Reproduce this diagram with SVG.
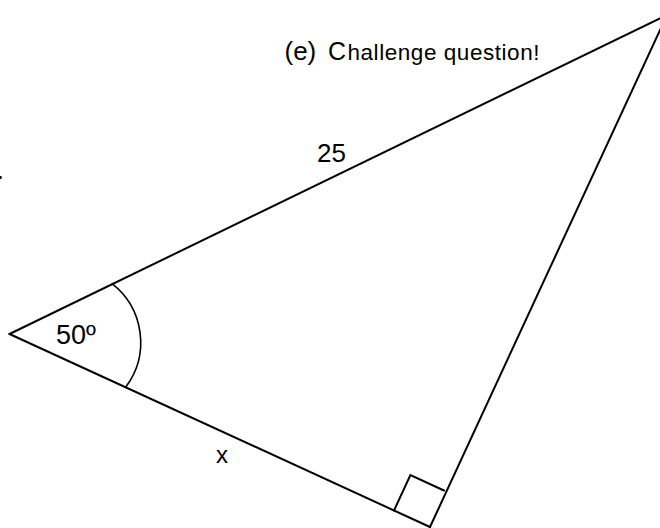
<svg xmlns="http://www.w3.org/2000/svg" width="660" height="528" viewBox="0 0 660 528">
<style>
.ln{fill:none;stroke:#000;stroke-width:2;stroke-linecap:round;stroke-linejoin:miter}
.arc{fill:none;stroke:#000;stroke-width:1.6}
.t{font-family:"Liberation Sans",Arial,sans-serif;fill:#000}
</style>
<rect width="660" height="528" fill="#fff"/>
<g id="triangle">
<line class="ln" x1="9.5" y1="334" x2="667" y2="15"/>
<line class="ln" x1="9.5" y1="334" x2="430" y2="527"/>
<line class="ln" x1="430" y1="527" x2="667" y2="15"/>
</g>
<g id="right-angle">
<polyline class="ln" points="394,510.5 410.4,475 444,490.5"/>
</g>
<g id="angle-arc">
<path class="arc" d="M111.7,283.3 A74.5,74.5 0 0 1 126,386.7"/>
</g>
<g id="mark">
<rect x="0" y="176" width="1.6" height="3" fill="#000"/>
</g>
<g id="labels">
<text class="t" x="284.5" y="59.5" font-size="26">(e)</text>
<text class="t" x="328" y="59.5" font-size="25">C</text>
<text class="t" x="347.5" y="59.5" font-size="22.5" textLength="192" lengthAdjust="spacing">hallenge question!</text>
<text class="t" x="317" y="162" font-size="26">25</text>
<text class="t" x="56" y="343.5" font-size="27">50º</text>
<text class="t" x="216" y="462.5" font-size="24">x</text>
</g>
</svg>
